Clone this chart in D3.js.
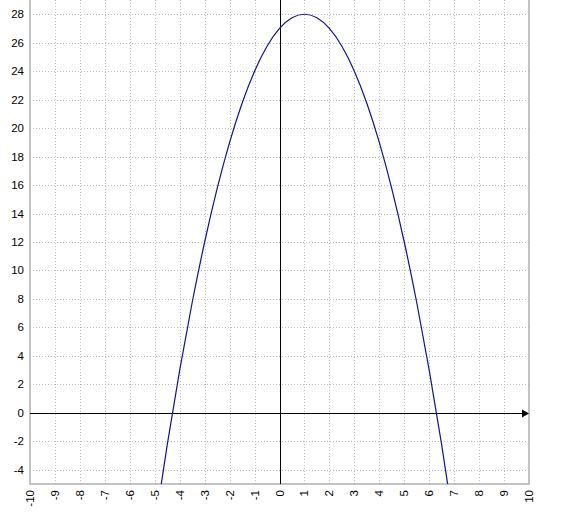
<!DOCTYPE html>
<html>
<head>
<meta charset="utf-8">
<script src="https://cdn.jsdelivr.net/npm/d3@7"></script>
<style>
html,body{margin:0;padding:0;background:#fff;}
svg{display:block;}
text{font-family:"Liberation Sans",Arial,sans-serif;font-size:11.5px;fill:#000;}
</style>
</head>
<body>
<svg id="chart" width="563" height="517"></svg>
<script>
// Data
const curveX = [-5, -4.5, -4, -3.5, -3, -2.5, -2, -1.5, -1, -0.5, 0, 0.5, 1, 1.5, 2, 2.5, 3, 3.5, 4, 4.5, 5, 5.5, 6, 6.5, 7];
const curveY = [-8, -2.25, 3, 7.75, 12, 15.75, 19, 21.75, 24, 25.75, 27, 27.75, 28, 27.75, 27, 25.75, 24, 21.75, 19, 15.75, 12, 7.75, 3, -2.25, -8];
const xTickLabels = [-10, -9, -8, -7, -6, -5, -4, -3, -2, -1, 0, 1, 2, 3, 4, 5, 6, 7, 8, 9, 10];
const yTickLabels = [-4, -2, 0, 2, 4, 6, 8, 10, 12, 14, 16, 18, 20, 22, 24, 26, 28];
const xDomain = [-10, 10];
const yDomain = [-5, 29];

(function () {
const svg = d3.select("#chart");
const pl = 30, pr = 529, pt = 0, pb = 484;

const x = d3.scaleLinear().domain(xDomain).range([pl, pr]);
const y = d3.scaleLinear().domain(yDomain).range([pb, pt]);

svg.append("defs").append("clipPath").attr("id", "plotclip")
  .append("rect").attr("x", pl).attr("y", pt).attr("width", pr - pl).attr("height", pb - pt);

// grid
const grid = svg.append("g").attr("stroke", "#bbbbbb").attr("stroke-dasharray", "1,2").attr("stroke-width", 1);
grid.selectAll("line.v").data(xTickLabels.filter(d => d !== xDomain[0] && d !== xDomain[1] && d !== 0)).enter()
  .append("line")
  .attr("x1", d => Math.round(x(d)) + 0.5).attr("x2", d => Math.round(x(d)) + 0.5)
  .attr("y1", pt).attr("y2", pb);
grid.selectAll("line.h").data(yTickLabels.filter(d => d !== 0)).enter()
  .append("line")
  .attr("y1", d => Math.round(y(d)) + 0.5).attr("y2", d => Math.round(y(d)) + 0.5)
  .attr("x1", pl).attr("x2", pr);

// frame
svg.append("path").attr("d", `M${pl},${pt}V${pb}H${pr}V${pt}`)
  .attr("stroke", "#b0b0b0").attr("stroke-width", 1.5).attr("fill", "none");

// axes
const x0 = Math.round(x(0)) + 0.5, y0 = Math.round(y(0)) + 0.5;
svg.append("line").attr("x1", pl).attr("x2", pr - 6).attr("y1", y0).attr("y2", y0)
  .attr("stroke", "#000").attr("stroke-width", 1);
svg.append("path").attr("d", `M${pr - 7},${y0 - 4}L${pr},${y0}L${pr - 7},${y0 + 4}Z`).attr("fill", "#000");
svg.append("line").attr("x1", x0).attr("x2", x0).attr("y1", pt).attr("y2", pb)
  .attr("stroke", "#000").attr("stroke-width", 1);

// y tick labels
svg.append("g").selectAll("text").data(yTickLabels).enter().append("text")
  .attr("x", 24).attr("y", d => y(d)).attr("dy", "0.35em").attr("text-anchor", "end")
  .text(d => d);

// x tick labels (rotated)
svg.append("g").selectAll("text").data(xTickLabels).enter().append("text")
  .attr("transform", d => `translate(${x(d)},490) rotate(-90)`)
  .attr("dy", "0.35em").attr("text-anchor", "end")
  .text(d => d);

// curve
const pts = curveX.map((d, i) => [d, curveY[i]]);
const line = d3.line().x(d => x(d[0])).y(d => y(d[1])).curve(d3.curveNatural);
svg.append("path").datum(pts).attr("d", line)
  .attr("clip-path", "url(#plotclip)")
  .attr("fill", "none").attr("stroke", "#12128f").attr("stroke-width", 1.2);
})();
</script>
</body>
</html>
